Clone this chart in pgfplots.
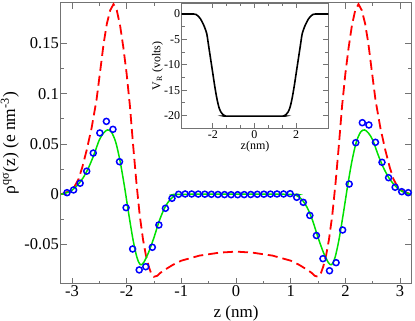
\documentclass[border=0pt]{standalone}
\usepackage{fontspec}
\setmainfont{Liberation Serif}
\usepackage{pgfplots}
\pgfplotsset{compat=1.18}

% charge density curves (symmetric profiles)
\pgfplotstableread{
z rho
-3.20 0.000
-3.15 0.001
-3.05 0.003
-2.96 0.007
-2.88 0.015
-2.81 0.027
-2.73 0.044
-2.64 0.066
-2.55 0.094
-2.48 0.124
-2.42 0.150
-2.36 0.170
-2.30 0.183
-2.24 0.189
-2.18 0.183
-2.12 0.168
-2.06 0.146
-2.00 0.120
-1.94 0.088
-1.88 0.048
-1.82 0.011
-1.76 -0.021
-1.70 -0.045
-1.65 -0.060
-1.60 -0.071
-1.55 -0.079
-1.50 -0.082
-1.44 -0.081
-1.38 -0.078
-1.30 -0.075
-1.15 -0.070
-1.00 -0.066
-0.67 -0.061
-0.30 -0.058
0.00 -0.057
0.30 -0.058
0.67 -0.061
1.00 -0.066
1.15 -0.070
1.30 -0.075
1.38 -0.078
1.44 -0.081
1.50 -0.082
1.55 -0.079
1.60 -0.071
1.65 -0.060
1.70 -0.045
1.76 -0.021
1.82 0.011
1.88 0.048
1.94 0.088
2.00 0.120
2.06 0.146
2.12 0.168
2.18 0.183
2.24 0.189
2.30 0.183
2.36 0.170
2.42 0.150
2.48 0.124
2.55 0.094
2.64 0.066
2.73 0.044
2.81 0.027
2.88 0.015
2.96 0.007
3.05 0.003
3.15 0.001
3.20 0.000
}\redtab

\pgfplotstableread{
z rho
-3.20 0.000
-3.10 0.0015
-3.00 0.004
-2.90 0.009
-2.80 0.016
-2.70 0.026
-2.60 0.039
-2.50 0.054
-2.42 0.061
-2.35 0.064
-2.28 0.062
-2.20 0.052
-2.12 0.033
-2.04 0.008
-1.96 -0.020
-1.88 -0.046
-1.81 -0.063
-1.75 -0.070
-1.69 -0.068
-1.60 -0.058
-1.50 -0.043
-1.40 -0.026
-1.30 -0.013
-1.20 -0.005
-1.10 -0.001
-1.00 0.000
1.00 0.000
1.10 -0.001
1.20 -0.005
1.30 -0.013
1.40 -0.026
1.50 -0.043
1.60 -0.058
1.69 -0.068
1.75 -0.070
1.81 -0.063
1.88 -0.046
1.96 -0.020
2.04 0.008
2.12 0.033
2.20 0.052
2.28 0.062
2.35 0.064
2.42 0.061
2.50 0.054
2.60 0.039
2.70 0.026
2.80 0.016
2.90 0.009
3.00 0.004
3.10 0.0015
3.20 0.000
}\greentab

\pgfplotstableread{
z rho
-3.09 0.0016
-2.97 0.0043
-2.85 0.011
-2.73 0.023
-2.61 0.041
-2.49 0.061
-2.37 0.0725
-2.25 0.0646
-2.13 0.0324
-2.01 -0.0133
-1.89 -0.0544
-1.77 -0.0752
-1.65 -0.072
-1.53 -0.0527
-1.41 -0.0305
-1.29 -0.0139
-1.17 -0.004
-1.05 0.0
-0.93 0.0003
-0.81 0.0003
-0.69 0.0002
-0.57 0.0001
-0.45 0.0
-0.33 -0.0002
-0.21 -0.0003
-0.09 -0.0004
0.03 -0.0004
0.15 -0.0003
0.27 -0.0002
0.39 0.0
0.51 0.0001
0.63 0.0002
0.75 0.0003
0.87 0.0003
0.99 0.0006
1.11 -0.003
1.23 -0.008
1.35 -0.021
1.47 -0.041
1.59 -0.064
1.71 -0.076
1.83 -0.068
1.95 -0.0355
2.07 0.0102
2.19 0.0513
2.31 0.0712
2.43 0.0689
2.55 0.0517
2.67 0.0318
2.79 0.0165
2.91 0.007
3.03 0.0026
3.15 0.0016
}\bluetab

\pgfplotstableread{
z v
-3.50 0.0
-3.00 0.0
-2.90 -0.02
-2.80 -0.12
-2.70 -0.45
-2.60 -0.95
-2.50 -1.7
-2.40 -2.6
-2.30 -3.8
-2.25 -5.0
-2.20 -6.4
-2.10 -9.1
-2.00 -11.8
-1.90 -14.5
-1.80 -16.8
-1.70 -18.5
-1.60 -19.4
-1.50 -19.85
-1.40 -20.05
-1.30 -20.1
1.30 -20.1
1.40 -20.05
1.50 -19.85
1.60 -19.4
1.70 -18.5
1.80 -16.8
1.90 -14.5
2.00 -11.8
2.10 -9.1
2.20 -6.4
2.25 -5.0
2.30 -3.8
2.40 -2.6
2.50 -1.7
2.60 -0.95
2.70 -0.45
2.80 -0.12
2.90 -0.02
3.00 0.0
3.55 0.0
}\vtab

\begin{document}
\begin{tikzpicture}
\useasboundingbox (0pt,0pt) rectangle (415pt,321pt);
\begin{axis}[at={(61pt,37.3pt)}, anchor=south west, scale only axis,
  width=350pt, height=281pt,
  xmin=-3.2, xmax=3.2, ymin=-0.0889, ymax=0.1905,
  xtick={-3,-2,-1,0,1,2,3}, xticklabels={-3,-2,-1,0,1,2,3}, minor x tick num=1,
  ytick={-0.05,0,0.05,0.1,0.15}, yticklabels={-0.05,0,0.05,0.1,0.15}, minor y tick num=1,
  tick align=inside, major tick length=6pt, minor tick length=3pt,
  axis line style={black!55, line width=1pt}, every tick/.style={black!55, line width=0.8pt},
  tick label style={font=\fontsize{16.5}{18}\selectfont},
  yticklabel style={anchor=east, inner sep=2pt},
  xticklabel style={anchor=north, inner sep=2pt},
  xlabel={z (nm)}, ylabel={ρ\textsuperscript{qσ}(z) (e nm\textsuperscript{-3})},
  xlabel style={font=\fontsize{17}{20}\selectfont, yshift=-3pt},
  ylabel style={font=\fontsize{17.5}{20}\selectfont, yshift=0pt},
  clip=true]
\addplot[red, line width=1.8pt, dash pattern=on 10pt off 5pt] table[x=z, y=rho] {\redtab};
\addplot[color={rgb,255:red,0;green,225;blue,0}, line width=1.5pt, smooth] table[x=z, y=rho] {\greentab};
\addplot[only marks, mark=o, mark size=3pt, blue, mark options={line width=1.5pt}] table[x=z, y=rho] {\bluetab};
\end{axis}
\begin{axis}[at={(181.7pt,192.7pt)}, anchor=south west, scale only axis,
  width=146.6pt, height=125pt,
  axis background/.style={fill=white},
  xmin=-3.5, xmax=3.55, ymin=-22.5, ymax=2.1,
  xtick={-2,0,2}, xticklabels={-2,0,2}, minor x tick num=2,
  ytick={-20,-15,-10,-5,0}, yticklabels={-20,-15,-10,-5,0}, minor y tick num=1,
  tick align=inside, major tick length=5pt, minor tick length=3pt,
  axis line style={black!55, line width=1pt}, every tick/.style={black!55, line width=0.8pt},
  tick label style={font=\fontsize{12}{14}\selectfont},
  yticklabel style={anchor=east, inner sep=1.5pt},
  xticklabel style={anchor=north, inner sep=2pt},
  xlabel={z(nm)}, ylabel={V\textsubscript{R} (volts)},
  label style={font=\fontsize{12}{14}\selectfont},
  xlabel style={yshift=3pt}, ylabel style={yshift=-4pt}]
\addplot[black, line width=1.6pt, smooth] table[x=z, y=v] {\vtab};
\end{axis}
\end{tikzpicture}
\end{document}
